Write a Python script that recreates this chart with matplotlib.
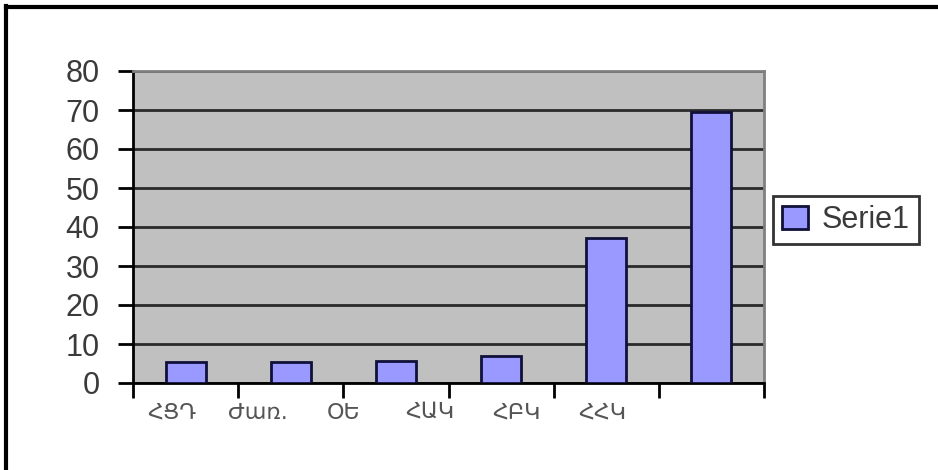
import matplotlib.pyplot as plt
import numpy as np

categories = ["ՀՑԴ", "Ժառ.", "ՕԵ", "ՀԱԿ", "ՀԲԿ", "ՀՀԿ"]
serie1 = [5.3, 5.3, 5.7, 6.9, 37.3, 69.6]
yticks = [0, 10, 20, 30, 40, 50, 60, 70, 80]

plt.rcParams["font.family"] = ["Liberation Sans", "DejaVu Sans"]

fig = plt.figure(figsize=(9.38, 4.7), dpi=100)
ax = fig.add_axes([133 / 938, 1 - 383 / 470, 631 / 938, 312 / 470])
ax.set_facecolor("#c0c0c0")

x = np.arange(len(categories))
ax.bar(x, serie1, width=0.38, color="#9999ff", edgecolor="#10103a",
       linewidth=2, label="Serie1", zorder=3)

ax.set_xlim(-0.5, len(categories) - 0.5)
ax.set_ylim(0, 80)
ax.set_yticks(yticks)
ax.set_yticklabels([str(v) for v in yticks], fontsize=22, color="#3a3a3a")
ax.yaxis.grid(True, color="#2a2a2a", linewidth=2)
ax.set_axisbelow(True)

# ticks between categories, labels drawn separately
ax.set_xticks(np.arange(-0.5, len(categories), 1.0))
ax.set_xticklabels([])
ax.tick_params(axis="both", length=11, width=2, color="black", direction="out")
ax.tick_params(axis="y", pad=13)

# the labels in the source drift left (narrower font than Excel expected)
lab_pos = -0.134 + 0.82 * x
for p, c in zip(lab_pos, categories):
    ax.text(p, -0.095, c, transform=ax.get_xaxis_transform(), ha="center",
            va="center", fontsize=16, color="#555555",
            family=["DejaVu Sans"])

for s in ["left", "bottom"]:
    ax.spines[s].set_color("black")
    ax.spines[s].set_linewidth(2)
for s in ["top", "right"]:
    ax.spines[s].set_color("#808080")
    ax.spines[s].set_linewidth(2)

leg = fig.legend(loc="center left", bbox_to_anchor=(773 / 938, 1 - 220 / 470),
                 fontsize=22, frameon=True, fancybox=False, edgecolor="black",
                 handlelength=0.85, handleheight=0.8, handletextpad=0.45,
                 borderpad=0.3, borderaxespad=0)
leg.get_frame().set_linewidth(2)
for t in leg.get_texts():
    t.set_color("#3a3a3a")

# outer frame (only left and top visible in the source)
fig.add_artist(plt.Line2D([6 / 938, 6 / 938], [0, 1 - 6 / 470], color="black", linewidth=3))
fig.add_artist(plt.Line2D([6 / 938, 1], [1 - 7 / 470, 1 - 7 / 470], color="black", linewidth=3))

fig.savefig("out.png", dpi=100)
